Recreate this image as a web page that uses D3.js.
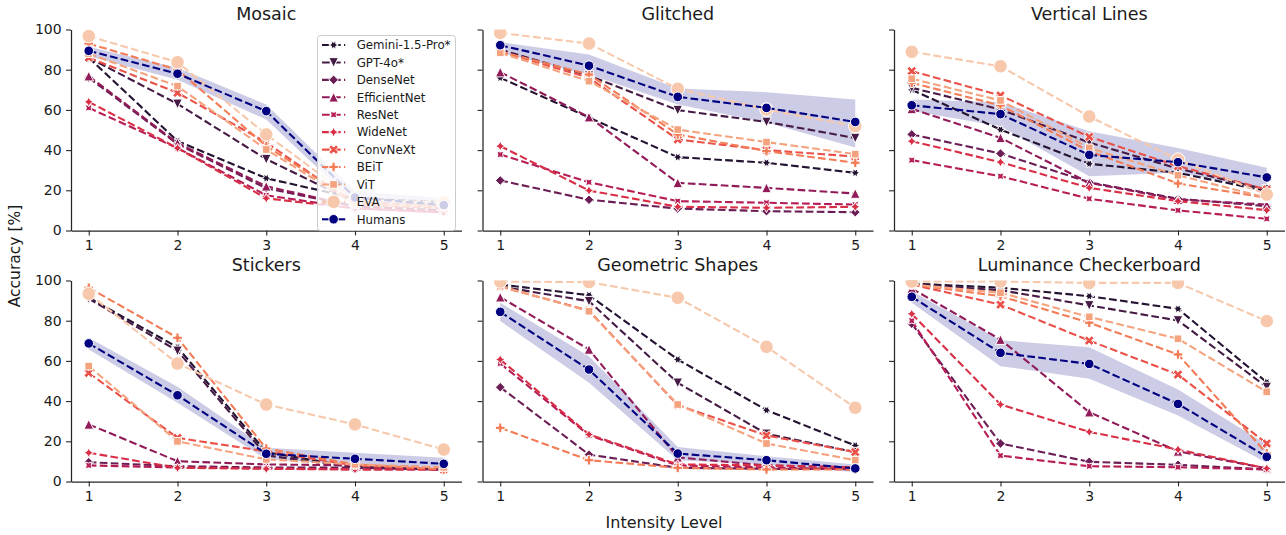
<!DOCTYPE html>
<html>
<head>
<meta charset="utf-8">
<script src="https://cdn.jsdelivr.net/npm/d3@7"></script>
<style>
  body { margin: 0; background: #fff; }
  text { font-family: "DejaVu Sans", sans-serif; fill: #1a1a1a; }
</style>
</head>
<body>
<svg id="chart" width="1286" height="535"></svg>
<script>
const levels = [1, 2, 3, 4, 5]
const models = ['Gemini-1.5-Pro*', 'GPT-4o*', 'DenseNet', 'EfficientNet', 'ResNet',
  'WideNet', 'ConvNeXt', 'BEiT', 'ViT', 'EVA']
const markers = ['star6', 'tri_down', 'diamond', 'tri_up', 'star4x', 'star4', 'x', 'plus', 'square', 'circle']
const panelNames = ['Mosaic', 'Glitched', 'Vertical Lines', 'Stickers', 'Geometric Shapes', 'Luminance Checkerboard']

// one row per model, in the order of `models`
const mosaic = [
  [86, 44.5, 26, 16, 14],
  [86, 63, 35.5, 14, 12],
  [76, 43, 21, 12, 10],
  [76.8, 43.5, 22, 12, 10],
  [61, 41, 17.5, 11, 9],
  [64, 41, 16, 11, 9],
  [86, 68.5, 43.8, 13, 11],
  [93, 80, 42, 14, 12],
  [88, 71.8, 40.3, 13, 12],
  [96.7, 83.7, 47.8, 15, 14],
]
const glitched = [
  [76, 56.2, 36.5, 33.7, 28.7],
  [90, 77, 59.9, 54, 46],
  [24.9, 15.3, 10.9, 9.6, 9.1],
  [78.8, 56.4, 23.7, 21.2, 18.4],
  [37.8, 24, 14.6, 13.8, 12.9],
  [42, 19.9, 11.8, 11.3, 11.8],
  [89, 76, 45.3, 40, 36.8],
  [89, 77.6, 47.8, 39.5, 33.7],
  [88.4, 74.3, 50.2, 44, 38],
  [98.3, 93, 70.5, 60.2, 51.9],
]
const verticalLines = [
  [70, 50.2, 33.2, 28.7, 19.6],
  [71, 60.2, 43.8, 30.8, 20.4],
  [47.8, 38.3, 24, 15.8, 12.1],
  [60.5, 46.1, 23.7, 15.4, 12.9],
  [35, 27, 15.8, 10, 5.8],
  [44.4, 34, 21.2, 14.6, 10.1],
  [79.3, 67.2, 46.6, 32, 20.4],
  [73.5, 62.2, 39.5, 23.4, 16.3],
  [75.5, 64.7, 41.1, 27.5, 16.3],
  [88.9, 81.7, 56.7, 35.3, 17.9],
]
const stickers = [
  [91.4, 66.8, 14.6, 7, 6],
  [91, 65, 13, 7, 6],
  [9.6, 7.6, 7, 7, 6],
  [28.4, 10.1, 8.5, 8, 7],
  [8, 7, 6.5, 6, 6],
  [14.3, 6.8, 6.3, 6, 6],
  [54, 21.7, 15, 8, 6],
  [96.4, 71.5, 16.4, 8.5, 6],
  [57.4, 20, 11, 8.5, 7],
  [93.4, 58.7, 38.3, 28.4, 15.9],
]
const geometricShapes = [
  [98, 92.7, 60.7, 35.5, 17.9],
  [97, 89.7, 49.1, 23.7, 14.6],
  [46.9, 13.4, 6.8, 6.3, 6.3],
  [91.7, 65.7, 12, 8, 7],
  [58.7, 23, 8, 7, 6],
  [60.7, 23.4, 8.5, 8, 7],
  [97, 85, 38, 22.9, 14.6],
  [26.7, 10.6, 6.8, 6, 6],
  [97.2, 84.7, 38.3, 18.9, 10.6],
  [99.5, 99.2, 91.4, 67, 36.7],
]
const luminance = [
  [98.5, 96.4, 92.2, 85.9, 49.4],
  [98, 95.2, 87.6, 80.1, 47],
  [78.5, 18.9, 9.8, 8.3, 6],
  [96, 70.6, 34.5, 15, 6.5],
  [80, 12.9, 7.6, 7.1, 6],
  [83.4, 38.3, 24.7, 15.9, 6.5],
  [98, 88, 70.1, 53.2, 18.9],
  [98, 92.2, 79, 63.2, 14],
  [98, 93.9, 81.9, 71, 44.6],
  [99.5, 99.5, 98.8, 98.8, 79.8],
]
const humanMean = [
  [89.4, 78, 59.4, 16.4, 12.6],
  [92.2, 82, 66.5, 61, 54],
  [62.3, 57.9, 37.6, 34, 26.4],
  [68.7, 42.9, 13.8, 11.3, 8.8],
  [84.4, 55.7, 13.9, 10.6, 6.5],
  [91.9, 64, 58.5, 38.6, 12.3],
]
const humanLo = [
  [86.7, 75, 55.2, 13.5, 9.5],
  [88.4, 77.6, 62.7, 53.7, 41.3],
  [59.4, 51.9, 27, 28.7, 20.4],
  [65.7, 39.2, 11, 8.5, 6.8],
  [79.8, 49.1, 10.6, 8.5, 4.6],
  [88.9, 57.4, 51.1, 32.8, 9.3],
]
const humanHi = [
  [91.4, 81, 62.7, 19.5, 16],
  [93.7, 87.6, 70.6, 68.8, 65.2],
  [65.2, 63.8, 49.4, 41.1, 31.2],
  [71.5, 47.1, 16.8, 14.3, 11.8],
  [88.9, 62.3, 17.2, 12.6, 8.5],
  [94.7, 70.3, 66.8, 45.8, 18.4],
]
const yTicks = [0, 20, 40, 60, 80, 100]
const panelData = [mosaic, glitched, verticalLines, stickers, geometricShapes, luminance]

// seaborn "rocket"-like ramp, sampled the way seaborn does for 10 colours
const rocket = d3.piecewise(d3.interpolateRgb, ['#03051a', '#35193e', '#701f57', '#ad1759', '#e13342', '#f37651', '#f6b48f', '#faebdd'])
const colors = models.map((m, i) => rocket((i + 1) / 11))
const humanColor = '#000080'

const ms = 9.6
function markerPath(kind, size) {
  const r = size / 2
  const poly = pts => 'M' + pts.map(p => p[0].toFixed(2) + ',' + p[1].toFixed(2)).join('L') + 'Z'
  const star = (n, inner, rot) => {
    const pts = []
    for (let k = 0; k < 2 * n; k++) {
      const a = -Math.PI / 2 + (k * Math.PI) / n + rot * Math.PI / 180
      const rr = k % 2 ? r * inner : r
      pts.push([rr * Math.cos(a), rr * Math.sin(a)])
    }
    return poly(pts)
  }
  switch (kind) {
    case 'circle': return d3.arc()({ innerRadius: 0, outerRadius: r, startAngle: 0, endAngle: 2 * Math.PI })
    case 'tri_up': return poly([[0, -r], [-r, r], [r, r]])
    case 'tri_down': return poly([[0, r], [-r, -r], [r, -r]])
    case 'diamond': return poly([[0, -r], [r, 0], [0, r], [-r, 0]])
    case 'square': { const s = r * 0.8; return poly([[-s, -s], [s, -s], [s, s], [-s, s]]) }
    case 'plus': return poly([[-1, -3], [1, -3], [1, -1], [3, -1], [3, 1], [1, 1], [1, 3], [-1, 3], [-1, 1], [-3, 1], [-3, -1], [-1, -1]].map(p => [p[0] * size / 6, p[1] * size / 6]))
    case 'x': return poly([[-1, -2], [0, -1], [1, -2], [2, -1], [1, 0], [2, 1], [1, 2], [0, 1], [-1, 2], [-2, 1], [-1, 0], [-2, -1]].map(p => [p[0] * size / 4, p[1] * size / 4]))
    case 'star4': return star(4, 0.5, 0)
    case 'star4x': return star(4, 0.5, 45)
    case 'star6': return star(6, 0.5, 30)
  }
}
const markerSize = i => (models[i] === 'EVA' ? 13.5 : ms)

const svg = d3.select('#chart')
const colLeft = [71, 482.5, 894]
const rowTop = [29.5, 280.5]
const panelW = 390.5
const panelH = 201
const dash = '7.7,3.3'
const lw = 2.1

const x = d3.scaleLinear().domain([0.8, 5.2]).range([0, panelW])
const y = d3.scaleLinear().domain([0, 100]).range([panelH, 0])
const line = d3.line().x((d, i) => x(levels[i])).y(d => y(d))
const band = d3.area()
  .x(d => x(d.level))
  .y0(d => y(d.lo))
  .y1(d => y(d.hi))

panelData.forEach((series, p) => {
  const col = p % 3
  const row = Math.floor(p / 3)
  const g = svg.append('g').attr('transform', `translate(${colLeft[col]},${rowTop[row]})`)

  g.append('clipPath').attr('id', 'clip' + p)
    .append('rect').attr('width', panelW).attr('height', panelH)

  const plot = g.append('g').attr('clip-path', `url(#clip${p})`)

  const bandData = levels.map((l, i) => ({ level: l, lo: humanLo[p][i], hi: humanHi[p][i] }))
  plot.append('path')
    .attr('d', band(bandData))
    .attr('fill', humanColor)
    .attr('fill-opacity', 0.2)

  series.forEach((vals, m) => {
    const s = plot.append('g')
    s.append('path')
      .attr('d', line(vals))
      .attr('fill', 'none')
      .attr('stroke', colors[m])
      .attr('stroke-width', lw)
      .attr('stroke-dasharray', dash)
    s.selectAll('path.mk').data(vals).enter()
      .append('path')
      .attr('class', 'mk')
      .attr('d', markerPath(markers[m], markerSize(m)))
      .attr('transform', (d, i) => `translate(${x(levels[i])},${y(d)})`)
      .attr('fill', colors[m])
      .attr('stroke', '#fff')
      .attr('stroke-width', 1)
  })

  const h = plot.append('g')
  h.append('path')
    .attr('d', line(humanMean[p]))
    .attr('fill', 'none')
    .attr('stroke', humanColor)
    .attr('stroke-width', lw)
    .attr('stroke-dasharray', dash)
  h.selectAll('path.mk').data(humanMean[p]).enter()
    .append('path')
    .attr('class', 'mk')
    .attr('d', markerPath('circle', ms))
    .attr('transform', (d, i) => `translate(${x(levels[i])},${y(d)})`)
    .attr('fill', humanColor)
    .attr('stroke', '#fff')
    .attr('stroke-width', 1)

  const xAxis = d3.axisBottom(x).tickValues(levels).tickFormat(d3.format('d'))
    .tickSize(4.9).tickSizeOuter(0).tickPadding(4.5)
  const yAxis = d3.axisLeft(y).tickValues(yTicks)
    .tickFormat(col === 0 ? d3.format('d') : () => '')
    .tickSize(4.9).tickSizeOuter(0).tickPadding(4.5)

  const xg = g.append('g').attr('transform', `translate(0,${panelH})`).call(xAxis)
  const yg = g.append('g').call(yAxis)
  ;[xg, yg].forEach(a => {
    a.selectAll('path.domain').attr('stroke', '#262626').attr('stroke-width', 1.25)
    a.selectAll('.tick line').attr('stroke', '#262626').attr('stroke-width', 1.1)
    a.selectAll('.tick text').style('font-family', '"DejaVu Sans", sans-serif')
      .style('font-size', '14px').attr('fill', '#1a1a1a')
  })

  g.append('text')
    .attr('x', panelW / 2)
    .attr('y', -9.5)
    .attr('text-anchor', 'middle')
    .style('font-size', '17.5px')
    .text(panelNames[p])
})

// legend in the first panel
const leg = svg.append('g').attr('transform', 'translate(317,35)')
leg.append('rect')
  .attr('x', 0.5).attr('y', 0.5)
  .attr('width', 138).attr('height', 195)
  .attr('rx', 3)
  .attr('fill', '#fff').attr('fill-opacity', 0.8)
  .attr('stroke', '#cccccc').attr('stroke-width', 1)

const legendRows = models.map((m, i) => ({ name: m, color: colors[i], marker: markers[i], size: markerSize(i), dashed: true }))
  .concat([{ name: 'Humans', color: humanColor, marker: 'circle', size: ms, dashed: false }])

legendRows.forEach((r, i) => {
  const ly = 10 + i * 17.43
  const e = leg.append('g').attr('transform', `translate(0,${ly})`)
  e.append('line')
    .attr('x1', 5).attr('x2', 28.2)
    .attr('stroke', r.color).attr('stroke-width', lw)
    .attr('stroke-dasharray', r.dashed ? dash : null)
  e.append('path')
    .attr('d', markerPath(r.marker, r.size))
    .attr('transform', 'translate(16.6,0)')
    .attr('fill', r.color).attr('stroke', '#fff').attr('stroke-width', 1)
  e.append('text')
    .attr('x', 39.7).attr('y', 0)
    .attr('dy', '0.36em')
    .style('font-size', '11.8px')
    .text(r.name)
})

svg.append('text')
  .attr('transform', 'translate(20,256) rotate(-90)')
  .attr('text-anchor', 'middle')
  .style('font-size', '15.5px')
  .text('Accuracy [%]')

svg.append('text')
  .attr('x', 664).attr('y', 528)
  .attr('text-anchor', 'middle')
  .style('font-size', '16px')
  .text('Intensity Level')
</script>
</body>
</html>
